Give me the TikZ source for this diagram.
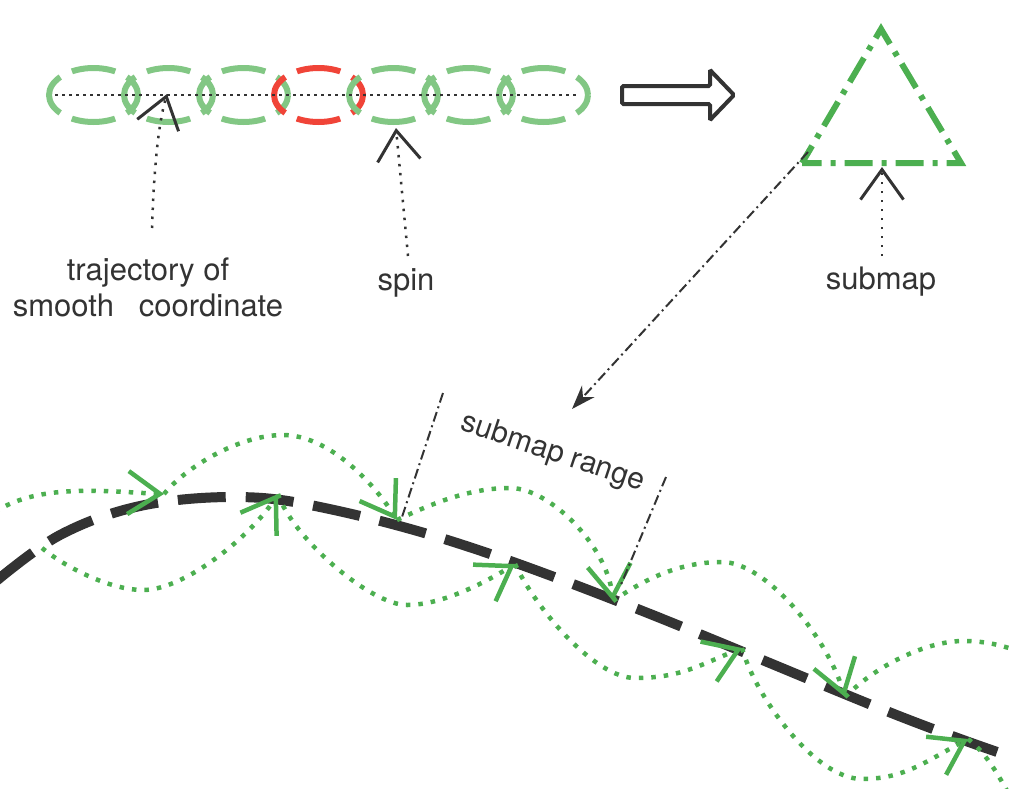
\documentclass[tikz,border=0pt]{standalone}
\usepackage{fontspec}
\setmainfont{TeX Gyre Heros}
\usetikzlibrary{arrows.meta,positioning}
\definecolor{ink}{HTML}{333333}
\definecolor{ringgreen}{HTML}{82C784}
\definecolor{ringred}{HTML}{F04438}
\definecolor{pathgreen}{HTML}{4CAF50}
\tikzset{V/.tip={Straight Barb[length=30pt,width=43pt,line width=3pt,sharp]}}
\tikzset{gV/.tip={Straight Barb[length=32pt,width=43pt,line width=4.5pt,sharp]}}
\tikzset{ring/.style={line width=6pt,dash pattern=on 44pt off 13pt,dash phase=22pt}}
\tikzset{hop/.style={pathgreen,line width=4.5pt,dash pattern=on 4.5pt off 8pt,-gV}}
\tikzset{pointer/.style={ink,line width=2.5pt,dash pattern=on 2.5pt off 6.5pt,-V}}
\tikzset{guide/.style={ink,line width=2pt,dash pattern=on 10pt off 4pt on 2pt off 4pt}}
\tikzset{lbl/.style={text=ink,font=\fontsize{31}{36}\selectfont}}

\begin{document}
\begin{tikzpicture}[x=1pt,y=-1pt]
        \useasboundingbox (0,0) rectangle (1010,788);
        % spin chain
        \foreach \i/\c in {0/ringgreen,1/ringgreen,2/ringgreen,3/ringred,4/ringgreen,5/ringgreen,6/ringgreen}
          \draw[ring,\c] ({93.5+75*\i},95) ellipse [x radius=44.5,y radius=27];
        \coordinate (t0) at (55,95);
        \coordinate (t1) at (580,95);
        \draw[ink,line width=2.5pt,dash pattern=on 2.5pt off 4.5pt] (t0) -- (t1);
        \draw[ink,line width=4pt,rounded corners=1.5pt]
          (622,86) -- (710,86) -- (710,70) -- (734,95) -- (710,120) -- (710,104) -- (622,104) -- cycle;
        % submap
        \coordinate (apex) at (881,29);
        \coordinate (bl) at (802,163);
        \coordinate (br) at (961,163);
        \draw[pathgreen,line width=6pt,dash pattern=on 28pt off 9pt on 5pt off 9pt,dash phase=8pt]
          (bl) -- (apex) -- (br) -- cycle;
        % labels
        \coordinate (trajtip) at (167,94);
        \coordinate (spintip) at (396,128);
        \coordinate (maptip) at (882,167);
        \coordinate (trajfoot) at (152,228);
        \coordinate (spinfoot) at (408,256);
        \coordinate (mapfoot) at (882,256);
        \node[lbl,align=center] (trajlabel) at (148,287) {trajectory of\\smooth\hspace{0.8em}coordinate};
        \node[lbl,anchor=base] (spinlabel) at (406,290) {spin};
        \node[lbl,anchor=base] (maplabel) at (881,289) {submap};
        \draw[pointer] (trajfoot) .. controls (154,170) and (158,125) .. (trajtip);
        \draw[pointer] (spinfoot) -- (spintip);
        \draw[pointer] (mapfoot) -- (maptip);
        % smooth trajectory
        \draw[ink,line width=10pt,dash pattern=on 48pt off 20pt] plot[smooth,tension=0.6]
          coordinates {(-5,582) (60,535) (140,506) (235,497) (320,507) (457,543) (635,608) (894,714) (1015,758)};
        \coordinate (k1) at (164,494);
        \coordinate (k2) at (278,494);
        \coordinate (k3) at (397,520);
        \coordinate (k4) at (515,564);
        \coordinate (k5) at (613,601);
        \coordinate (k6) at (742,648);
        \coordinate (k7) at (845,697);
        \coordinate (k8) at (968,739);
        \coordinate (in0) at (-5,512);
        \coordinate (in1) at (42,548);
        \coordinate (out0) at (1015,650);
        \coordinate (out1) at (1012,800);
        \draw[hop] (in0) .. controls (40,482) and (113,492) .. (k1);
        \draw[hop] (k1) .. controls (185,468) and (238,435) .. (283,435) .. controls (328,435) and (373,482) .. (k3);
        \draw[hop] (k3) .. controls (433,503) and (470,488) .. (510,488) .. controls (550,488) and (607,546) .. (k5);
        \draw[hop] (k5) .. controls (650,575) and (685,562) .. (722,562) .. controls (765,562) and (826,635) .. (k7);
        \draw[hop,-] (k7) .. controls (880,662) and (930,641) .. (963,641) .. controls (985,641) and (1000,645) .. (out0);
        \draw[hop] (in1) .. controls (65,567) and (110,590) .. (143,590) .. controls (185,590) and (251,536) .. (k2);
        \draw[hop] (k2) .. controls (292,537) and (370,605) .. (407,605) .. controls (440,605) and (481,585) .. (k4);
        \draw[hop] (k4) .. controls (536,609) and (595,678) .. (635,678) .. controls (680,678) and (700,665) .. (k6);
        \draw[hop] (k6) .. controls (755,696) and (815,779) .. (862,779) .. controls (905,779) and (928,760) .. (k8);
        \draw[hop,-] (k8) .. controls (985,752) and (997,772) .. (out1);
        % submap range
        \coordinate (mapcorner) at (808,152);
        \coordinate (rangetop) at (572,409);
        \coordinate (rangeL) at (443,393);
        \coordinate (rangeLfoot) at (402,517);
        \coordinate (rangeR) at (666,477);
        \coordinate (rangeRfoot) at (620,587);
        \draw[guide,-{Stealth[length=24pt,width=17pt]}] (mapcorner) -- (rangetop);
        \draw[guide] (rangeL) -- (rangeLfoot);
        \draw[guide] (rangeR) -- (rangeRfoot);
        \node[lbl,font=\fontsize{30}{36}\selectfont,rotate=-18.5] (rangelabel) at (553,453) {submap range};
      \end{tikzpicture}
\end{document}
